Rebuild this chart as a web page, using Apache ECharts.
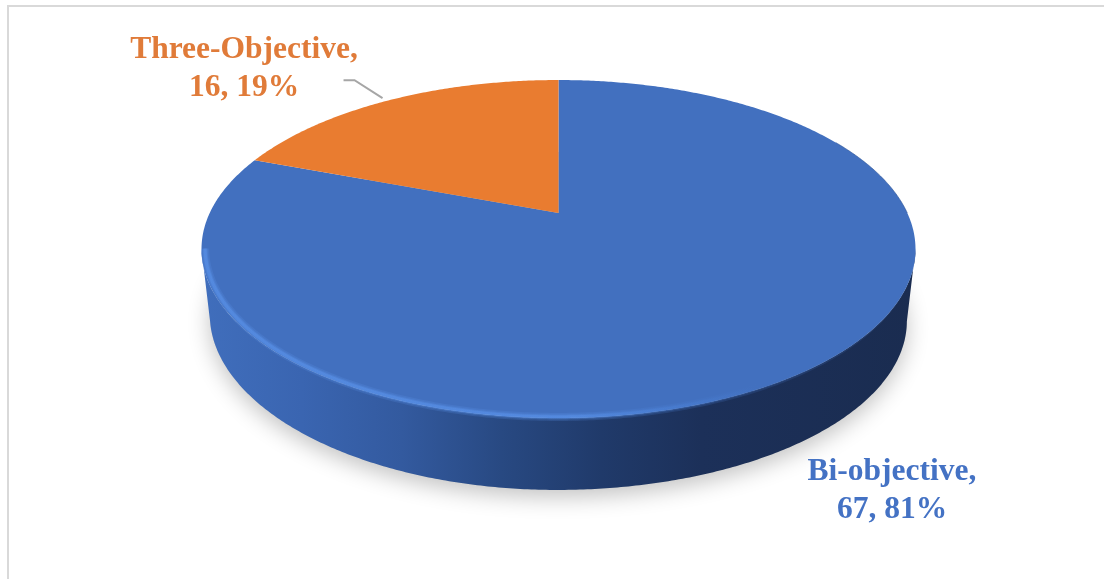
<!DOCTYPE html>
<html>
<head>
<meta charset="utf-8">
<style>html,body{margin:0;padding:0;background:#fff}#chart{width:1104px;height:579px}</style>
<script src="https://cdn.jsdelivr.net/npm/echarts@6/dist/echarts.min.js"></script>
</head>
<body>
<div id="chart"></div>
<script>
// Objective-count breakdown
const categories = ['Bi-objective', 'Three-Objective'];
const counts = [67, 16];
const percents = [81, 19];
const sliceColors = ['#4270BF', '#E97C30'];

// Tilted disc geometry: a unit circle pushed through a perspective projection
const APEX_X = 558.5, APEX_Y = 213;
const HALF_W = 348.8, SCALE_Y = 161.3, PERSP = 0.213;
const DEPTH = 72, BASE_SHRINK = 0.98, BASE_SHIFT_X = -1.5, BASE_SKEW = 14;
const total = counts.reduce((a, b) => a + b, 0);

function project(fraction, shrink, dx, dy, skew) {
  const t = fraction * Math.PI * 2;
  const x = Math.sin(t), y = -Math.cos(t);
  const w = 1 - PERSP * y;
  const lean = skew ? skew * Math.max(0, y) * Math.max(0, -x) : 0;
  return [APEX_X + dx + lean + HALF_W * shrink * x / w, APEX_Y + dy + SCALE_Y * y / w];
}
function ring(shrink, dx, dy, skew) {
  const pts = [];
  for (let i = 0; i < 720; i++) pts.push(project(i / 720, shrink, dx, dy, skew));
  return pts;
}
function arc(from, to) {
  const pts = [];
  const n = Math.max(2, Math.ceil((to - from) * 720));
  for (let i = 0; i <= n; i++) pts.push(project(from + (to - from) * i / n, 1, 0, 0));
  return pts;
}

function discBody() {
  const top = ring(1, 0, 0);
  const base = ring(BASE_SHRINK, BASE_SHIFT_X, DEPTH, BASE_SKEW);
  let right = 0, left = 0;
  top.forEach((p, i) => {
    if (p[0] > top[right][0]) right = i;
    if (p[0] < top[left][0]) left = i;
  });
  const topFront = top.slice(right, left + 1);
  const baseFront = base.slice(right, left + 1).reverse();
  const wall = new echarts.graphic.LinearGradient(0, 0, 1, 0, [
    { offset: 0, color: '#406EBC' },
    { offset: 0.14, color: '#3A65B1' },
    { offset: 0.28, color: '#335A9F' },
    { offset: 0.42, color: '#284982' },
    { offset: 0.56, color: '#203A6A' },
    { offset: 0.7, color: '#1C3059' },
    { offset: 1, color: '#1A2C50' }
  ]);
  // The front edge catches light on the left and melts into the face on the right
  const glow = new echarts.graphic.LinearGradient(202, 0, 916, 0, [
    { offset: 0, color: '#5B94EC' },
    { offset: 0.52, color: '#5B94EC' },
    { offset: 0.66, color: '#4A7FD4' },
    { offset: 0.78, color: '#4270BF' },
    { offset: 1, color: '#4270BF' }
  ], true);
  const rim = ring(0.99, 0, -1).slice(right, left + 1);
  return {
    under: [
      { type: 'polygon', shape: { points: base },
        style: { fill: '#cfcfcc', shadowBlur: 22, shadowColor: 'rgba(0,0,0,0.24)', shadowOffsetY: 7 } },
      { type: 'polygon', shape: { points: topFront.concat(baseFront) }, style: { fill: wall } }
    ],
    rim: [
      { type: 'polyline', shape: { points: rim }, style: { fill: null, stroke: glow, lineWidth: 8, opacity: 0.2 } },
      { type: 'polyline', shape: { points: rim }, style: { fill: null, stroke: glow, lineWidth: 5, opacity: 0.3 } },
      { type: 'polyline', shape: { points: rim }, style: { fill: null, stroke: glow, lineWidth: 3, opacity: 0.45 } }
    ],
    edge: [
      { type: 'polyline', shape: { points: arc(0.17, 0.25) }, style: { fill: null, stroke: '#2F5597', lineWidth: 1, opacity: 0.6 } }
    ]
  };
}

const labelPlacement = [
  { x: 244, y: 69 },
  { x: 892, y: 491 }
].reverse();

const renderSlice = (params, api) => {
  const idx = params.dataIndex;
  const before = counts.slice(0, idx).reduce((a, b) => a + b, 0);
  const from = before / total;
  const to = (before + api.value(0)) / total;
  const wedge = [[APEX_X, APEX_Y]].concat(arc(from, to));
  const children = [];
  const body = idx === 0 ? discBody() : null;
  if (body) children.push(...body.under);
  children.push({ type: 'polygon', shape: { points: wedge }, style: { fill: sliceColors[idx] } });
  if (body) children.push(...body.rim, ...body.edge);
  if (idx === 1) {
    // elbow leader from the rim of the slice to its label
    const a = project((from + to) / 2, 1, 0, 0);
    children.push({
      type: 'polyline',
      shape: { points: [[a[0] - 46, a[1] - 20], [a[0] - 35, a[1] - 20], [a[0] - 7, a[1] - 2]] },
      style: { fill: null, stroke: '#A6A6A6', lineWidth: 2 }
    });
  }
  children.push({
    type: 'text',
    style: {
      text: categories[idx] + ',\n' + api.value(0) + ', ' + percents[idx] + '%',
      x: labelPlacement[idx].x, y: labelPlacement[idx].y,
      align: 'center', verticalAlign: 'middle', lineHeight: 38,
      font: 'bold 31.5px "Liberation Serif"',
      fill: idx === 0 ? '#4472C4' : '#E07B39'
    }
  });
  return { type: 'group', children };
};

const chart = echarts.init(document.getElementById('chart'), null, { renderer: 'canvas' });
chart.setOption({
  animation: false,
  backgroundColor: '#fff',
  graphic: [
    { type: 'rect', shape: { x: 7, y: 5, width: 1097, height: 2 }, style: { fill: '#D9D9D9' }, silent: true },
    { type: 'rect', shape: { x: 7, y: 5, width: 2, height: 574 }, style: { fill: '#D9D9D9' }, silent: true }
  ],
  series: [{
    type: 'custom',
    coordinateSystem: 'none',
    renderItem: renderSlice,
    data: counts.map((v, i) => ({ name: categories[i], value: [v] }))
  }]
});
</script>
</body>
</html>
